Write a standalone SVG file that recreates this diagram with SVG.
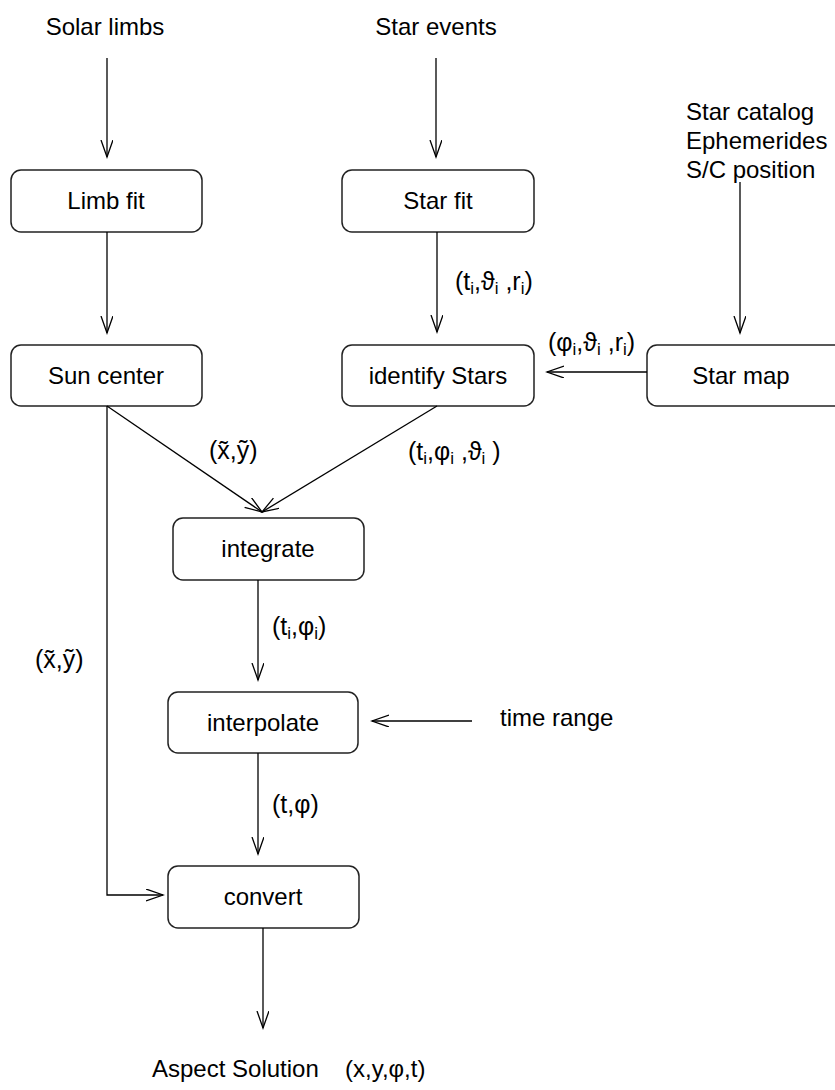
<svg xmlns="http://www.w3.org/2000/svg" width="835" height="1090" viewBox="0 0 835 1090">
  <style>
    text { font-family: "Liberation Sans", Arial, sans-serif; fill: #000; }
    .t { font-size: 24px; }
    .c { text-anchor: middle; }
    .lbl { font-size: 25px; }
    .sub { font-size: 17px; }
    .box { fill: #fff; stroke: #222; stroke-width: 1.5; }
    .wire { fill: none; stroke: #000; stroke-width: 1.3; }
  </style>
  <defs>
    <marker id="arrow" markerUnits="userSpaceOnUse" markerWidth="20" markerHeight="14" refX="17" refY="6" orient="auto">
      <path d="M0,0 L17,6 L0,12" fill="none" stroke="#000" stroke-width="1.3"/>
    </marker>
  </defs>

  <rect width="835" height="1090" fill="#fff"/>

  <!-- input sources -->
  <g id="src-solar-limbs"><text class="t c" x="105" y="35">Solar limbs</text></g>
  <g id="src-star-events"><text class="t c" x="436" y="35">Star events</text></g>
  <g id="src-catalog">
    <text class="t" x="686" y="120">Star catalog</text>
    <text class="t" x="686" y="149">Ephemerides</text>
    <text class="t" x="686" y="178">S/C position</text>
  </g>
  <g id="src-time-range"><text class="t" x="500" y="726">time range</text></g>

  <!-- processing nodes -->
  <g id="limb-fit">
    <rect class="box" x="11" y="170" width="191" height="62" rx="10"/>
    <text class="t c" x="106" y="209">Limb fit</text>
  </g>
  <g id="star-fit">
    <rect class="box" x="342" y="170" width="192" height="62" rx="10"/>
    <text class="t c" x="438" y="209">Star fit</text>
  </g>
  <g id="sun-center">
    <rect class="box" x="11" y="345" width="191" height="61" rx="10"/>
    <text class="t c" x="106" y="384">Sun center</text>
  </g>
  <g id="identify-stars">
    <rect class="box" x="342" y="345" width="192" height="61" rx="10"/>
    <text class="t c" x="438" y="384">identify Stars</text>
  </g>
  <g id="star-map">
    <rect class="box" x="647" y="345" width="200" height="61" rx="10"/>
    <text class="t c" x="741" y="384">Star map</text>
  </g>
  <g id="integrate">
    <rect class="box" x="173" y="518" width="191" height="62" rx="10"/>
    <text class="t c" x="268" y="557">integrate</text>
  </g>
  <g id="interpolate">
    <rect class="box" x="168" y="692" width="190" height="61" rx="10"/>
    <text class="t c" x="263" y="731">interpolate</text>
  </g>
  <g id="convert">
    <rect class="box" x="168" y="866" width="191" height="62" rx="10"/>
    <text class="t c" x="263" y="905">convert</text>
  </g>
  <g id="aspect-solution">
    <text class="t" x="152" y="1077">Aspect Solution</text>
    <text class="t" x="345" y="1077">(x,y,φ,t)</text>
  </g>

  <!-- connectors -->
  <g id="connectors">
    <path class="wire" marker-end="url(#arrow)" d="M107,58 V157"/>
    <path class="wire" marker-end="url(#arrow)" d="M436,58 V157"/>
    <path class="wire" marker-end="url(#arrow)" d="M107,232 V333"/>
    <path class="wire" marker-end="url(#arrow)" d="M437,232 V332"/>
    <path class="wire" marker-end="url(#arrow)" d="M740,182 V333"/>
    <path class="wire" marker-end="url(#arrow)" d="M647,372 H547"/>
    <path class="wire" marker-end="url(#arrow)" d="M107,406 L262,512"/>
    <path class="wire" marker-end="url(#arrow)" d="M437,406 L262,512"/>
    <path class="wire" marker-end="url(#arrow)" d="M107,406 V895 H163"/>
    <path class="wire" marker-end="url(#arrow)" d="M258,580 V680"/>
    <path class="wire" marker-end="url(#arrow)" d="M472,721 H372"/>
    <path class="wire" marker-end="url(#arrow)" d="M258,753 V854"/>
    <path class="wire" marker-end="url(#arrow)" d="M263,928 V1028"/>
  </g>

  <!-- connector labels -->
  <g id="labels">
    <text class="lbl" x="455" y="290">(t<tspan class="sub" dy="4">i</tspan><tspan dy="-4">,ϑ</tspan><tspan class="sub" dy="4">i</tspan><tspan dy="-4"> ,r</tspan><tspan class="sub" dy="4">i</tspan><tspan dy="-4">)</tspan></text>
    <text class="lbl" x="548" y="351">(φ<tspan class="sub" dy="4">i</tspan><tspan dy="-4">,ϑ</tspan><tspan class="sub" dy="4">i</tspan><tspan dy="-4"> ,r</tspan><tspan class="sub" dy="4">i</tspan><tspan dy="-4">)</tspan></text>
    <text class="lbl" x="209" y="459">(x̃,ỹ)</text>
    <text class="lbl" x="408" y="460">(t<tspan class="sub" dy="4">i</tspan><tspan dy="-4">,φ</tspan><tspan class="sub" dy="4">i</tspan><tspan dy="-4"> ,ϑ</tspan><tspan class="sub" dy="4">i</tspan><tspan dy="-4"> )</tspan></text>
    <text class="lbl" x="35" y="668">(x̃,ỹ)</text>
    <text class="lbl" x="272" y="635">(t<tspan class="sub" dy="4">i</tspan><tspan dy="-4">,φ</tspan><tspan class="sub" dy="4">i</tspan><tspan dy="-4">)</tspan></text>
    <text class="lbl" x="272" y="813">(t,φ)</text>
  </g>
</svg>
